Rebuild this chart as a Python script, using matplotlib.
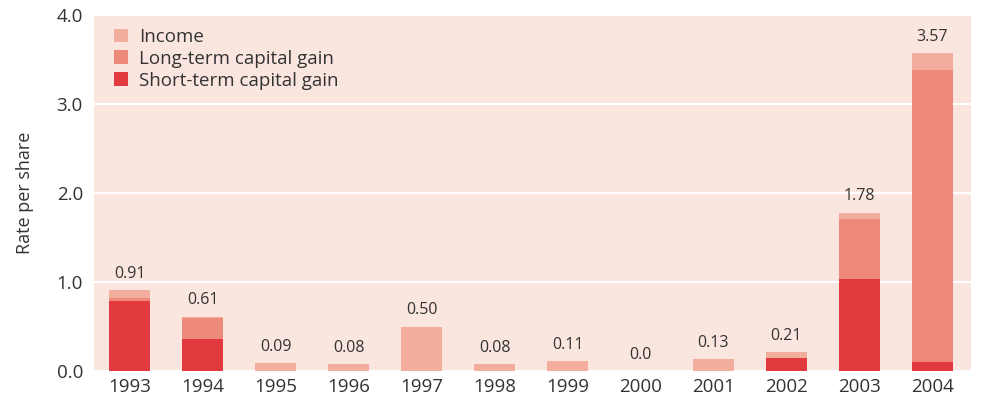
import matplotlib.pyplot as plt
import numpy as np

plt.rcParams['font.family'] = ['Open Sans', 'DejaVu Sans']

years = ['1993', '1994', '1995', '1996', '1997', '1998', '1999', '2000', '2001', '2002', '2003', '2004']
short_term = [0.79, 0.36, 0.0, 0.0, 0.0, 0.0, 0.0, 0.0, 0.0, 0.15, 1.03, 0.10]
long_term = [0.03, 0.24, 0.0, 0.0, 0.0, 0.0, 0.0, 0.0, 0.0, 0.0, 0.68, 3.28]
income = [0.09, 0.01, 0.09, 0.08, 0.50, 0.08, 0.11, 0.0, 0.13, 0.06, 0.07, 0.19]
totals = ['0.91', '0.61', '0.09', '0.08', '0.50', '0.08', '0.11', '0.0', '0.13', '0.21', '1.78', '3.57']

c_income = '#f2ad9c'
c_long = '#ed8a7a'
c_short = '#e2393f'
txt = '#333333'

fig = plt.figure(figsize=(9.81, 4.13), dpi=100)
ax = fig.add_axes([94 / 981, 1 - 371 / 413, 877 / 981, 356 / 413])
ax.set_facecolor('#fbe5df')

x = np.arange(len(years))
st = np.array(short_term)
lt = np.array(long_term)
inc = np.array(income)
w = 0.56
ax.bar(x, st, w, color=c_short, label='Short-term capital gain', zorder=3)
ax.bar(x, lt, w, bottom=st, color=c_long, label='Long-term capital gain', zorder=3)
ax.bar(x, inc, w, bottom=st + lt, color=c_income, label='Income', zorder=3)

top = st + lt + inc
for xi, t, lab in zip(x, top, totals):
    ax.annotate(lab, (xi, t), xytext=(0, 6), textcoords='offset points',
                ha='center', va='bottom', fontsize=11.5, color=txt)

ax.set_xlim(-0.49, 11.53)
ax.set_ylim(0, 4)
ax.set_yticks([0, 1, 2, 3, 4])
ax.set_yticklabels(['0.0', '1.0', '2.0', '3.0', '4.0'])
ax.set_xticks(x)
ax.set_xticklabels(years)
ax.tick_params(length=0, labelsize=13.5, colors=txt, pad=5)
ax.tick_params(axis='y', pad=8)
for s in ax.spines.values():
    s.set_visible(False)
ax.yaxis.grid(True, color='white', linewidth=1.5, zorder=1)
ax.set_axisbelow(True)
ax.set_ylabel('Rate per share', fontsize=13, color=txt, labelpad=16)

h, l = ax.get_legend_handles_labels()
leg = ax.legend(h[::-1], l[::-1], loc='upper left', frameon=False, fontsize=13.5,
                handlelength=0.75, handleheight=0.75, handletextpad=0.6,
                labelspacing=0.2, borderaxespad=0.3, bbox_to_anchor=(0.008, 1.0))
for t in leg.get_texts():
    t.set_color(txt)

fig.savefig('out.png', dpi=100)
